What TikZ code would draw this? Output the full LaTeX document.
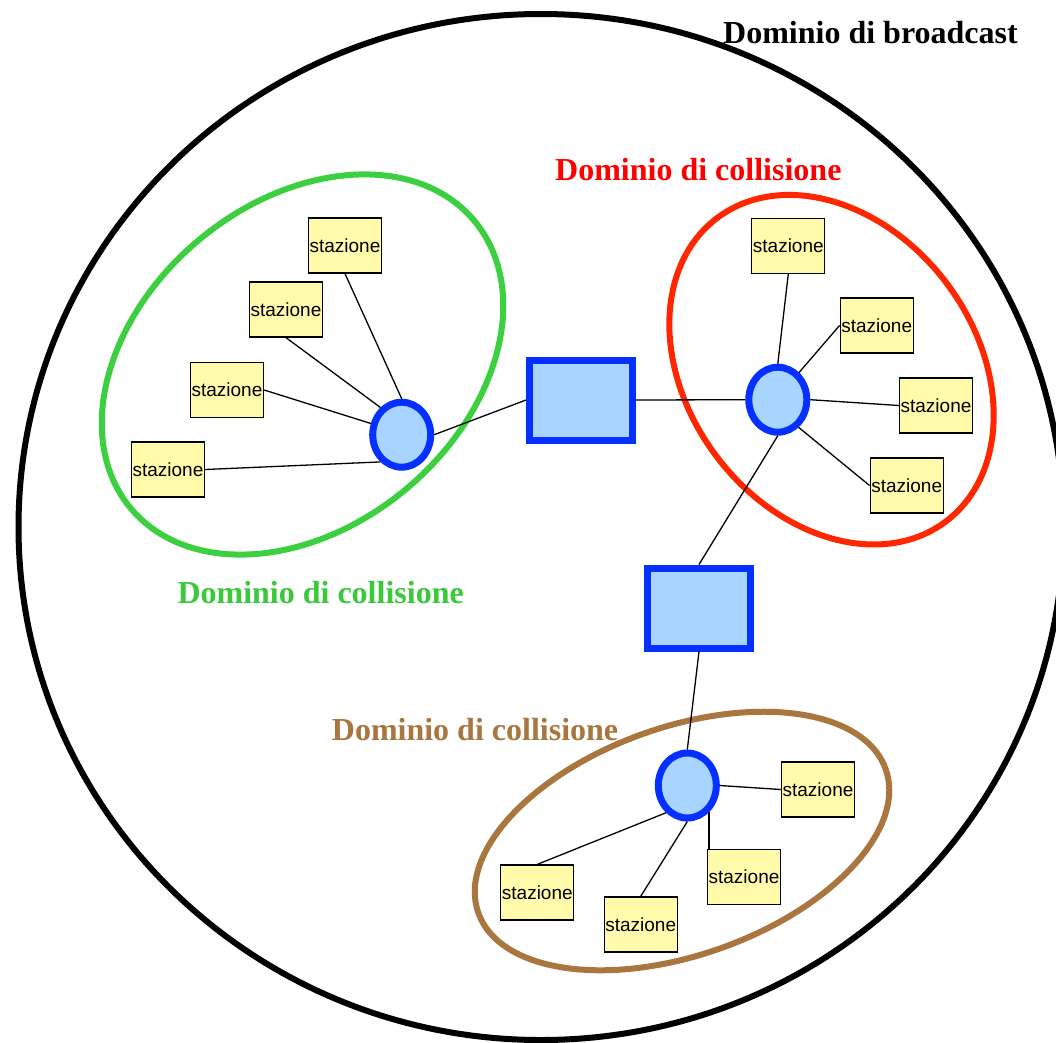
\documentclass[tikz,border=0pt]{standalone}
\usepackage{fontspec}
\setmainfont{Liberation Serif}
\newfontfamily\stfont{Liberation Sans}
\usetikzlibrary{shapes.geometric}
\definecolor{stfill}{HTML}{FFFBAA}
\definecolor{netblue}{HTML}{0530FF}
\definecolor{netfill}{HTML}{A8D5FF}
\definecolor{grn}{HTML}{3CD040}
\definecolor{grntxt}{HTML}{3AC93A}
\definecolor{redline}{HTML}{FF2600}
\definecolor{redtxt}{HTML}{FF0000}
\definecolor{brn}{HTML}{A8763E}
\begin{document}
\begin{tikzpicture}[x=1pt,y=-1pt,
 stn/.style={draw=black, line width=1.3pt, fill=stfill, minimum width=73pt, minimum height=55pt, inner sep=0pt, font=\stfont\fontsize{19}{19}\selectfont},
 hub/.style={ellipse, draw=netblue, line width=7pt, fill=netfill, minimum width=58pt, minimum height=65pt, inner sep=0pt},
 sw/.style={rectangle, draw=netblue, line width=7pt, fill=netfill, minimum width=103pt, minimum height=80pt, inner sep=0pt},
 link/.style={draw=black, line width=1.3pt},
 lbl/.style={anchor=base west, inner sep=0pt, font=\bfseries\fontsize{32}{32}\selectfont}]
\useasboundingbox (0,0) rectangle (1056,1042);
\clip (0,0) rectangle (1056,1042);
\fill[white] (0,0) rectangle (1056,1042);

% broadcast domain
\draw[black, line width=6pt] (541,527) ellipse [x radius=522.5, y radius=513];
% collision domains
\draw[grn, line width=6pt, rotate around={40:(302.5,364.5)}] (302.5,364.5) ellipse [x radius=224, y radius=162];
\draw[redline, line width=6pt, rotate around={-53:(831.5,369.7)}] (831.5,369.7) ellipse [x radius=190, y radius=144];
\draw[brn, line width=6pt, rotate around={19.4:(682,841)}] (682,841) ellipse [x radius=216, y radius=114];

% labels
\node[lbl, text=black] (lb) at (723,43.3) {Dominio di broadcast};
\node[lbl, text=redtxt] (lr) at (555,180) {Dominio di collisione};
\node[lbl, text=grntxt] (lg) at (177.3,603.3) {Dominio di collisione};
\node[lbl, text=brn] (lbr) at (331.7,740) {Dominio di collisione};

% devices
\node[hub] (hubA) at (401.7,434.7) {};
\node[hub] (hubB) at (777.8,399.7) {};
\node[hub] (hubC) at (687.3,785.5) {};
\node[sw] (s1) at (581,400) {};
\node[sw] (s2) at (699,608) {};

% stations
\node[stn] (g1) at (345,245.5) {stazione};
\node[stn] (g2) at (286,309.5) {stazione};
\node[stn] (g3) at (227,390) {stazione};
\node[stn] (g4) at (168,469.5) {stazione};
\node[stn] (r1) at (788.3,245.8) {stazione};
\node[stn] (r2) at (876.7,325.5) {stazione};
\node[stn] (r3) at (936,405.5) {stazione};
\node[stn] (r4) at (906.7,485.5) {stazione};
\node[stn] (b1) at (818,789.5) {stazione};
\node[stn] (b2) at (744,876.7) {stazione};
\node[stn] (b3) at (640.7,924.5) {stazione};
\node[stn] (b4) at (537.3,892.5) {stazione};

% links
\draw[link] (g1.south) -- (hubA.90);
\draw[link] (g2.south) -- (hubA.128);
\draw[link] (g3.east) -- (hubA.160);
\draw[link] (g4.east) -- (hubA.232);
\draw[link] (hubA.east) -- (s1.west);
\draw[link] (s1.east) -- (hubB.west);
\draw[link] (r1.south) -- (hubB.90);
\draw[link] (r2.west) -- (hubB.52);
\draw[link] (r3.west) -- (hubB.east);
\draw[link] (r4.west) -- (hubB.307.5);
\draw[link] (hubB.south) -- (s2.north);
\draw[link] (s2.south) -- (hubC.north);
\draw[link] (hubC.east) -- (b1.west);
\draw[link] (hubC.309) -- (hubC.309 |- b2.north);
\draw[link] (hubC.south) -- (b3.north);
\draw[link] (hubC.232.5) -- (b4.north);
\end{tikzpicture}
\end{document}
